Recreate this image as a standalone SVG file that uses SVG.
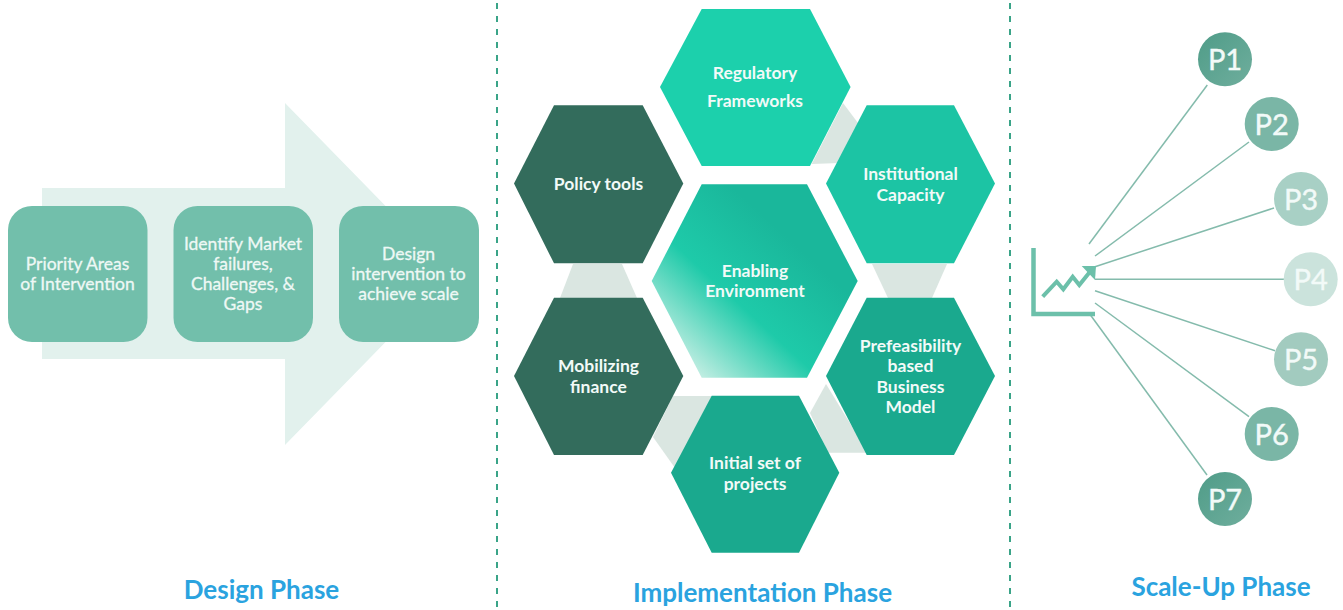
<svg xmlns="http://www.w3.org/2000/svg" width="1343" height="610" viewBox="0 0 1343 610">
<style>
text{font-family:Lato,"Open Sans","Liberation Sans",sans-serif;text-anchor:middle}
.b{font-size:17.500px;fill:#eef8f5;stroke:#eef8f5;stroke-width:0.300px}
.h{font-size:17.500px;font-weight:700;fill:#f2faf8}
.ph{font-size:26px;font-weight:700;fill:#2aa3df}
.c{font-size:29px;fill:#f2faf8;stroke:#f2faf8;stroke-width:0.400px}
.box{fill:#72bfab}
.div{stroke:#3aa488;stroke-width:2;stroke-dasharray:6 7;fill:none}
.tri{fill:#dae6e1}
.con{stroke:#84bbac;stroke-width:1.500;fill:none}
.dk{fill:#336c5c}
.md{fill:#1aa98e}
</style>
<defs>
<linearGradient id="cg" gradientUnits="userSpaceOnUse" x1="680" y1="360" x2="790" y2="240">
<stop offset="0" stop-color="#c4eee3"/><stop offset="0.5" stop-color="#1ecaa9"/><stop offset="1" stop-color="#1ab79b"/>
</linearGradient>
<linearGradient id="p1" x1="0" y1="0" x2="1" y2="1"><stop offset="0" stop-color="#4f9c88"/><stop offset="1" stop-color="#6fae9d"/></linearGradient>
</defs>
<g id="dividers">
<line class="div" x1="497" y1="3" x2="497" y2="610"/>
<line class="div" x1="1010" y1="3" x2="1010" y2="610"/>
</g>
<g id="design-arrow"><polygon points="42,188 285,188 285,103 452,274 285,445 285,359 42,359" fill="#e2f1ed"/></g>
<g id="box-priority"><rect class="box" x="8" y="206" width="139.500" height="136" rx="24"/><text class="b" x="77.500" y="270">Priority Areas</text><text class="b" x="77.500" y="290">of Intervention</text></g>
<g id="box-market"><rect class="box" x="173.500" y="206" width="139.500" height="136" rx="24"/><text class="b" x="243" y="250">Identify Market</text><text class="b" x="243" y="270">failures,</text><text class="b" x="243" y="290">Challenges, &amp;</text><text class="b" x="243" y="310">Gaps</text></g>
<g id="box-design"><rect class="box" x="339" y="206" width="140" height="136" rx="24"/><text class="b" x="408.500" y="260">Design</text><text class="b" x="408.500" y="280">intervention to</text><text class="b" x="408.500" y="300">achieve scale</text></g>
<g id="connectors-hex">
<polygon class="tri" points="843,103 858,123 840,163 811.700,164"/>
<polygon class="tri" points="573,264 622,264 637,298 560,298"/>
<polygon class="tri" points="872,264 947,264 932,298 888,298"/>
<polygon class="tri" points="673,396 712,396 675,468 653,437"/>
<polygon class="tri" points="826,384 810,413 828,452.700 868,452.700"/>
</g>
<g id="hex-regulatory"><polygon points="701.700,9 810,9 850.600,87 810,166 701.700,166 660,87" fill="#1cd0ac"/><text class="h" x="755" y="79">Regulatory</text><text class="h" x="755" y="107">Frameworks</text></g>
<g id="hex-policy"><polygon class="dk" points="554,105.300 642.700,105.300 683.300,183.500 642.700,263.300 554,263.300 514,183.500"/><text class="h" x="598.500" y="190">Policy tools</text></g>
<g id="hex-institutional"><polygon points="866.700,105.300 954,105.300 995,183.500 954,263.300 866.700,263.300 826,183.500" fill="#1cc4a4"/><text class="h" x="910.500" y="180">Institutional</text><text class="h" x="910.500" y="201">Capacity</text></g>
<g id="hex-enabling"><polygon points="701.700,184.300 807,184.300 857.700,281 807,377.700 701.700,377.700 651.700,281" fill="url(#cg)"/><text class="h" x="755" y="277">Enabling</text><text class="h" x="755" y="297">Environment</text></g>
<g id="hex-mobilizing"><polygon class="dk" points="554,297.700 642.700,297.700 683.300,376 642.700,455 554,455 514,376"/><text class="h" x="598.500" y="372">Mobilizing</text><text class="h" x="598.500" y="393">finance</text></g>
<g id="hex-prefeasibility"><polygon class="md" points="866.700,297.700 954,297.700 995,376 954,455 866.700,455 826,376"/><text class="h" x="910.500" y="352">Prefeasibility</text><text class="h" x="910.500" y="372">based</text><text class="h" x="910.500" y="393">Business</text><text class="h" x="910.500" y="413">Model</text></g>
<g id="hex-initial"><polygon class="md" points="711.700,395.700 799,395.700 839.300,472.700 799,552.700 711.700,552.700 671,472.700"/><text class="h" x="755" y="469">Initial set of</text><text class="h" x="755" y="490">projects</text></g>
<g id="connectors">
<line class="con" x1="1089" y1="244" x2="1207.300" y2="85"/>
<line class="con" x1="1095" y1="256" x2="1249" y2="142"/>
<line class="con" x1="1095" y1="266.700" x2="1274" y2="208"/>
<line class="con" x1="1095" y1="279.300" x2="1285" y2="279.300"/>
<line class="con" x1="1095" y1="290.700" x2="1275" y2="350.700"/>
<line class="con" x1="1095" y1="303" x2="1249" y2="416.700"/>
<line class="con" x1="1089" y1="313" x2="1207" y2="475"/>
</g>
<g id="chart-icon">
<polyline points="1033.500,248 1033.500,314 1095,314" fill="none" stroke="#6cc0aa" stroke-width="4.500"/>
<polyline points="1042.700,296.700 1056.700,281.700 1063.300,289.300 1072.700,276.700 1079.300,285 1090,271.700" fill="none" stroke="#6cc0aa" stroke-width="4"/>
<polygon points="1081.700,266 1096,266 1095,280" fill="#6cc0aa"/>
</g>
<g id="p1"><circle cx="1225" cy="59.300" r="27" fill="url(#p1)"/><text class="c" x="1225" y="70">P1</text></g>
<g id="p2"><circle cx="1271.700" cy="124" r="27" fill="#7ab6a6"/><text class="c" x="1271.700" y="135">P2</text></g>
<g id="p3"><circle cx="1301" cy="199" r="27" fill="#a8d0c5"/><text class="c" x="1301" y="210">P3</text></g>
<g id="p4"><circle cx="1310.700" cy="279.300" r="27" fill="#cbe3dc"/><text class="c" x="1310.700" y="290">P4</text></g>
<g id="p5"><circle cx="1301" cy="359.300" r="27" fill="#a2cbbf"/><text class="c" x="1301" y="370">P5</text></g>
<g id="p6"><circle cx="1271.700" cy="434" r="27" fill="#7ab6a6"/><text class="c" x="1271.700" y="445">P6</text></g>
<g id="p7"><circle cx="1225" cy="499" r="27" fill="url(#p1)"/><text class="c" x="1225" y="510">P7</text></g>
<g id="phases">
<text class="ph" x="261.500" y="599">Design Phase</text>
<text class="ph" x="762.500" y="602">Implementation Phase</text>
<text class="ph" x="1221" y="596">Scale-Up Phase</text>
</g>
</svg>
